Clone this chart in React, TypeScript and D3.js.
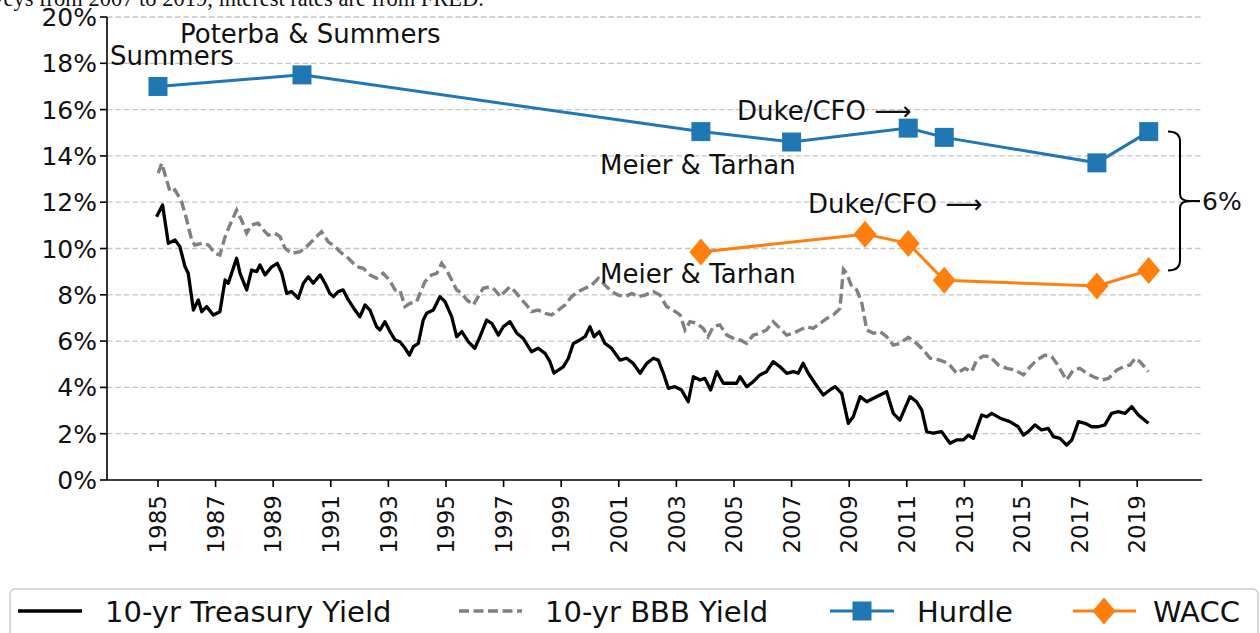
import React from "react"
import { scaleLinear, line } from "d3"

// 10-yr Treasury yield as [year, percent]
const treasury: [number, number][] = [
  [1984.95, 11.37], [1985.16, 11.88], [1985.36, 10.22], [1985.59, 10.37], [1985.76, 10.08], [1985.94, 9.21],
  [1986.05, 8.93], [1986.23, 7.34], [1986.4, 7.78], [1986.52, 7.27], [1986.69, 7.49], [1986.92, 7.13],
  [1987.15, 7.27], [1987.33, 8.64], [1987.44, 8.5], [1987.73, 9.58], [1987.85, 8.93], [1988.08, 8.21],
  [1988.25, 9.07], [1988.43, 9.0], [1988.54, 9.29], [1988.72, 8.86], [1988.95, 9.21], [1989.14, 9.36],
  [1989.3, 8.93], [1989.47, 8.06], [1989.64, 8.14], [1989.87, 7.85], [1990.05, 8.5], [1990.22, 8.78],
  [1990.39, 8.5], [1990.63, 8.86], [1990.8, 8.5], [1990.97, 8.06], [1991.09, 7.92], [1991.26, 8.14],
  [1991.43, 8.21], [1991.61, 7.78], [1991.84, 7.34], [1992.01, 7.05], [1992.19, 7.56], [1992.36, 7.34],
  [1992.59, 6.62], [1992.71, 6.48], [1992.88, 6.84], [1993.06, 6.4], [1993.23, 6.05], [1993.4, 5.97],
  [1993.58, 5.69], [1993.73, 5.4], [1993.87, 5.76], [1994.04, 5.9], [1994.21, 6.91], [1994.33, 7.2],
  [1994.56, 7.34], [1994.79, 7.92], [1994.97, 7.7], [1995.2, 7.05], [1995.37, 6.19], [1995.55, 6.41],
  [1995.78, 5.97], [1996.0, 5.69], [1996.18, 6.19], [1996.41, 6.91], [1996.59, 6.77], [1996.82, 6.26],
  [1996.99, 6.62], [1997.22, 6.84], [1997.46, 6.34], [1997.68, 6.12], [1997.97, 5.54], [1998.2, 5.69],
  [1998.44, 5.47], [1998.61, 5.11], [1998.75, 4.61], [1998.9, 4.75], [1999.07, 4.89], [1999.25, 5.26],
  [1999.42, 5.9], [1999.65, 6.05], [1999.83, 6.19], [2000.0, 6.62], [2000.14, 6.19], [2000.32, 6.41],
  [2000.52, 5.9], [2000.75, 5.69], [2001.04, 5.18], [2001.27, 5.26], [2001.5, 5.04], [2001.74, 4.61],
  [2001.97, 5.04], [2002.2, 5.26], [2002.37, 5.18], [2002.55, 4.61], [2002.72, 3.96], [2002.95, 4.03],
  [2003.18, 3.89], [2003.41, 3.38], [2003.59, 4.46], [2003.82, 4.32], [2003.99, 4.39], [2004.19, 3.89],
  [2004.4, 4.68], [2004.63, 4.18], [2004.86, 4.18], [2005.09, 4.18], [2005.21, 4.46], [2005.44, 4.03],
  [2005.67, 4.25], [2005.9, 4.54], [2006.13, 4.68], [2006.36, 5.11], [2006.6, 4.89], [2006.83, 4.61],
  [2007.06, 4.68], [2007.23, 4.61], [2007.4, 5.04], [2007.58, 4.61], [2007.81, 4.18], [2008.1, 3.67],
  [2008.33, 3.89], [2008.51, 4.03], [2008.74, 3.74], [2008.97, 2.45], [2009.14, 2.73], [2009.38, 3.6],
  [2009.61, 3.38], [2009.84, 3.53], [2010.07, 3.67], [2010.3, 3.81], [2010.53, 2.88], [2010.76, 2.59],
  [2011.11, 3.6], [2011.34, 3.38], [2011.52, 3.02], [2011.69, 2.09], [2011.92, 2.02], [2012.21, 2.09],
  [2012.5, 1.59], [2012.73, 1.73], [2012.96, 1.73], [2013.14, 1.94], [2013.31, 1.8], [2013.6, 2.81],
  [2013.77, 2.73], [2013.95, 2.88], [2014.24, 2.67], [2014.58, 2.52], [2014.87, 2.3], [2015.05, 1.94],
  [2015.22, 2.09], [2015.45, 2.38], [2015.68, 2.16], [2015.91, 2.23], [2016.09, 1.87], [2016.32, 1.8],
  [2016.55, 1.51], [2016.73, 1.73], [2016.96, 2.52], [2017.19, 2.45], [2017.42, 2.3], [2017.65, 2.3],
  [2017.88, 2.38], [2018.11, 2.88], [2018.34, 2.95], [2018.58, 2.88], [2018.81, 3.17], [2019.04, 2.81],
  [2019.39, 2.45],
]

// 10-yr BBB yield
const bbb: [number, number][] = [
  [1985.01, 13.25], [1985.13, 13.68], [1985.3, 12.96], [1985.42, 12.45], [1985.59, 12.53], [1985.82, 12.02],
  [1986.0, 11.23], [1986.17, 10.37], [1986.28, 10.15], [1986.52, 10.22], [1986.75, 10.15], [1986.98, 9.79],
  [1987.15, 9.72], [1987.33, 10.51], [1987.5, 11.02], [1987.73, 11.66], [1987.9, 11.23], [1988.08, 10.66],
  [1988.25, 11.02], [1988.48, 11.09], [1988.66, 10.8], [1988.83, 10.58], [1989.06, 10.66], [1989.24, 10.51],
  [1989.41, 10.01], [1989.64, 9.79], [1989.93, 9.86], [1990.16, 10.08], [1990.39, 10.37], [1990.68, 10.73],
  [1990.91, 10.29], [1991.15, 10.08], [1991.32, 9.86], [1991.61, 9.58], [1991.9, 9.21], [1992.13, 9.14],
  [1992.36, 8.86], [1992.59, 8.71], [1992.82, 8.93], [1993.06, 8.6], [1993.23, 8.21], [1993.4, 8.2],
  [1993.58, 7.49], [1993.75, 7.63], [1993.98, 7.7], [1994.15, 8.21], [1994.27, 8.57], [1994.5, 8.86],
  [1994.68, 8.93], [1994.85, 9.36], [1995.02, 9.07], [1995.2, 8.64], [1995.37, 8.21], [1995.55, 8.06],
  [1995.72, 7.78], [1995.95, 7.56], [1996.12, 7.92], [1996.29, 8.28], [1996.53, 8.35], [1996.7, 8.21],
  [1996.88, 7.92], [1997.05, 8.14], [1997.22, 8.35], [1997.4, 8.14], [1997.63, 7.78], [1997.8, 7.56],
  [1997.97, 7.27], [1998.2, 7.34], [1998.44, 7.2], [1998.67, 7.13], [1998.9, 7.34], [1999.13, 7.56],
  [1999.36, 7.92], [1999.59, 8.14], [1999.83, 8.28], [2000.06, 8.42], [2000.29, 8.71], [2000.52, 8.42],
  [2000.75, 8.14], [2000.98, 7.99], [2001.22, 7.92], [2001.45, 8.06], [2001.68, 7.92], [2001.91, 7.99],
  [2002.2, 8.14], [2002.43, 7.99], [2002.66, 7.49], [2002.89, 7.34], [2003.13, 7.13], [2003.3, 6.48],
  [2003.47, 6.84], [2003.7, 6.77], [2003.93, 6.55], [2004.1, 6.19], [2004.28, 6.62], [2004.51, 6.7],
  [2004.75, 6.26], [2004.98, 6.12], [2005.21, 6.05], [2005.44, 5.9], [2005.67, 6.26], [2005.9, 6.34],
  [2006.13, 6.48], [2006.36, 6.84], [2006.6, 6.55], [2006.83, 6.26], [2007.06, 6.34], [2007.29, 6.48],
  [2007.52, 6.62], [2007.75, 6.55], [2007.99, 6.77], [2008.22, 6.98], [2008.45, 7.13], [2008.68, 7.41],
  [2008.8, 9.1], [2008.91, 8.93], [2009.09, 8.35], [2009.26, 8.21], [2009.43, 7.7], [2009.61, 6.48],
  [2009.84, 6.34], [2010.07, 6.41], [2010.3, 6.19], [2010.53, 5.83], [2010.76, 5.9], [2011.05, 6.16],
  [2011.34, 5.9], [2011.57, 5.62], [2011.81, 5.26], [2012.15, 5.18], [2012.44, 5.04], [2012.73, 4.61],
  [2013.02, 4.82], [2013.25, 4.68], [2013.43, 5.18], [2013.66, 5.36], [2013.89, 5.33], [2014.18, 4.97],
  [2014.47, 4.82], [2014.76, 4.75], [2015.05, 4.54], [2015.28, 4.89], [2015.51, 5.18], [2015.8, 5.4],
  [2016.03, 5.33], [2016.2, 5.04], [2016.44, 4.54], [2016.55, 4.32], [2016.78, 4.75], [2017.01, 4.82],
  [2017.25, 4.61], [2017.48, 4.46], [2017.77, 4.32], [2018.0, 4.39], [2018.29, 4.75], [2018.52, 4.89],
  [2018.75, 4.97], [2018.93, 5.26], [2019.1, 5.11], [2019.39, 4.68],
]

// survey results
const hurdleYears = [1985, 1990, 2003.85, 2007.0, 2011.05, 2012.3, 2017.6, 2019.4]
const hurdleValues = [17.0, 17.5, 15.05, 14.6, 15.2, 14.8, 13.7, 15.05]
const waccYears = [2003.85, 2009.55, 2011.05, 2012.3, 2017.6, 2019.4]
const waccValues = [9.85, 10.62, 10.22, 8.63, 8.38, 9.05]

const yTicks = [0, 2, 4, 6, 8, 10, 12, 14, 16, 18, 20]
const xTicks = [1985, 1987, 1989, 1991, 1993, 1995, 1997, 1999, 2001, 2003, 2005, 2007, 2009, 2011, 2013, 2015, 2017, 2019]

const BLUE = "#1f77b4"
const ORANGE = "#ff7f0e"
const GRAY = "#808080"
const FONT = "DejaVu Sans"

const App = () => {
  const width = 1260
  const height = 633
  const left = 107
  const right = 1202
  const top = 17
  const bottom = 480

  const x = scaleLinear().domain([1983.23, 2021.25]).range([left, right])
  const y = scaleLinear().domain([0, 20]).range([bottom, top])

  const pathOf = line<[number, number]>()
    .x((d) => x(d[0]))
    .y((d) => y(d[1]))

  const hurdle = hurdleYears.map((yr, i) => [yr, hurdleValues[i]] as [number, number])
  const wacc = waccYears.map((yr, i) => [yr, waccValues[i]] as [number, number])

  const sq = 19
  const dm = 13.5
  const diamond = (cx: number, cy: number) =>
    `M${cx},${cy - dm}L${cx + dm * 0.85},${cy}L${cx},${cy + dm}L${cx - dm * 0.85},${cy}Z`

  // brace between last hurdle and last wacc point
  const bTop = y(hurdleValues[hurdleValues.length - 1])
  const bBot = y(waccValues[waccValues.length - 1])
  const bMid = (bTop + bBot) / 2
  const bx = 1168
  const brace = `M${bx},${bTop} Q${bx + 12},${bTop} ${bx + 12},${bTop + 10} L${bx + 12},${bMid - 7} Q${bx + 12},${bMid} ${bx + 22},${bMid} Q${bx + 12},${bMid} ${bx + 12},${bMid + 7} L${bx + 12},${bBot - 10} Q${bx + 12},${bBot} ${bx},${bBot}`

  const legendY = 611
  const legendText = 622

  return (
    <svg
      width={width}
      height={height}
      style={{ position: "absolute", left: 0, top: 0, background: "white" }}
      fontFamily={FONT}
    >
      <text x={484} y={6} textAnchor="end" fontFamily="Liberation Serif" fontSize={22.5} fill="#111">
        surveys from 2007 to 2019, interest rates are from FRED.
      </text>

      {/* grid */}
      {yTicks.filter((t) => t > 0).map((t) => (
        <line key={t} x1={left} x2={right} y1={y(t)} y2={y(t)} stroke="#c4c4c4" strokeWidth={1.3} strokeDasharray="5.5,3" />
      ))}

      {/* spines */}
      <line x1={left} x2={left} y1={top} y2={bottom} stroke="#000" strokeWidth={1.6} />
      <line x1={left} x2={right} y1={bottom} y2={bottom} stroke="#000" strokeWidth={1.6} />

      {yTicks.map((t) => (
        <g key={t} transform={`translate(0,${y(t)})`}>
          <line x1={left - 7} x2={left} stroke="#000" strokeWidth={1.6} />
          <text x={97} dy="0.36em" textAnchor="end" fontSize={25} fill="#111">{`${t}%`}</text>
        </g>
      ))}
      {xTicks.map((t) => (
        <g key={t} transform={`translate(${x(t)},${bottom})`}>
          <line y2={7} stroke="#000" strokeWidth={1.6} />
          <text transform="translate(0,15) rotate(-90)" dy="0.36em" textAnchor="end" fontSize={23} fill="#111">
            {t}
          </text>
        </g>
      ))}

      {/* series */}
      <path d={pathOf(bbb) || ""} fill="none" stroke={GRAY} strokeWidth={3.4} strokeDasharray="10,4.5" />
      <path d={pathOf(treasury) || ""} fill="none" stroke="#000" strokeWidth={3.3} strokeLinejoin="round" />
      <path d={pathOf(hurdle) || ""} fill="none" stroke={BLUE} strokeWidth={3} />
      {hurdle.map((d, i) => (
        <rect key={i} x={x(d[0]) - sq / 2} y={y(d[1]) - sq / 2} width={sq} height={sq} fill={BLUE} />
      ))}
      <path d={pathOf(wacc) || ""} fill="none" stroke={ORANGE} strokeWidth={3} />
      {wacc.map((d, i) => (
        <path key={i} d={diamond(x(d[0]), y(d[1]))} fill={ORANGE} />
      ))}

      {/* annotations */}
      <g fontSize={26} fill="#111">
        <text x={110} y={65}>Summers</text>
        <text x={180} y={43}>Poterba &amp; Summers</text>
        <text x={737} y={120}>Duke/CFO ⟶</text>
        <text x={600} y={174}>Meier &amp; Tarhan</text>
        <text x={808} y={213}>Duke/CFO ⟶</text>
        <text x={600} y={283}>Meier &amp; Tarhan</text>
      </g>
      <path d={brace} fill="none" stroke="#000" strokeWidth={2} />
      <line x1={bx + 22} x2={bx + 32} y1={bMid} y2={bMid} stroke="#000" strokeWidth={2} />
      <text x={1202} y={bMid} dy="0.36em" fontSize={25} fill="#111">6%</text>

      {/* legend */}
      <rect x={10} y={589} width={1248} height={60} rx={5} fill="white" stroke="#cccccc" strokeWidth={1.5} />
      <g fontSize={29} fill="#111">
        <line x1={18} x2={82} y1={legendY} y2={legendY} stroke="#000" strokeWidth={3.3} />
        <text x={105} y={legendText}>10-yr Treasury Yield</text>
        <line x1={459} x2={522} y1={legendY} y2={legendY} stroke={GRAY} strokeWidth={3.4} strokeDasharray="10,4.5" />
        <text x={545} y={legendText}>10-yr BBB Yield</text>
        <line x1={830} x2={894} y1={legendY} y2={legendY} stroke={BLUE} strokeWidth={3} />
        <rect x={862 - sq / 2} y={legendY - sq / 2} width={sq} height={sq} fill={BLUE} />
        <text x={917} y={legendText}>Hurdle</text>
        <line x1={1073} x2={1136} y1={legendY} y2={legendY} stroke={ORANGE} strokeWidth={3} />
        <path d={diamond(1104, legendY)} fill={ORANGE} />
        <text x={1153} y={legendText}>WACC</text>
      </g>
    </svg>
  )
}

export default App
